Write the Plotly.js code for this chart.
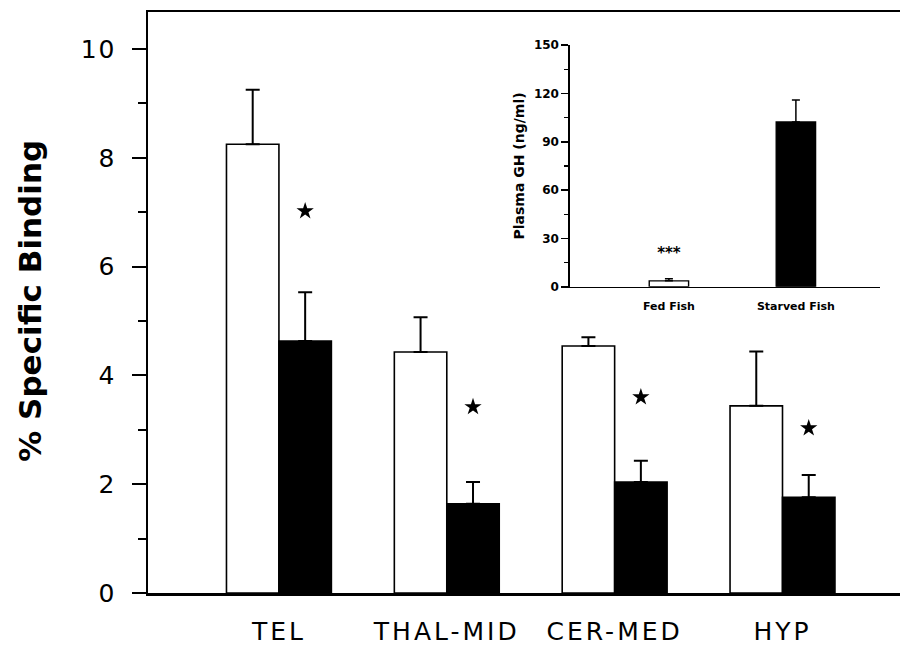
<!DOCTYPE html>
<html>
<head>
<meta charset="utf-8">
<script src="https://cdn.plot.ly/plotly-3.0.1.min.js"></script>
<style>
html,body{margin:0;padding:0;background:#fff;}
#chart{width:902px;height:646px;}
#chart .xtick text{letter-spacing:3px;}
#chart .ytick text{letter-spacing:2px;}
</style>
</head>
<body>
<div id="chart"></div>
<script>
// Main chart data (% specific binding)
var categories = ['TEL', 'THAL-MID', 'CER-MED', 'HYP'];
var fedBinding = [8.25, 4.43, 4.54, 3.44];
var fedErr = [1.0, 0.64, 0.16, 1.0];
var starvedBinding = [4.63, 1.64, 2.04, 1.76];
var starvedErr = [0.9, 0.4, 0.39, 0.41];
var starY = [7.02, 3.42, 3.60, 3.03];
var yTickVals = [0, 2, 4, 6, 8, 10];

// Inset data (plasma GH, ng/ml)
var insetGroups = ['Fed Fish', 'Starved Fish'];
var insetGH = [3.7, 102.3];
var insetErr = [1.3, 13.7];
var insetStarLabel = ['***', ''];
var insetStarY = [20, null];
var insetTickVals = [0, 30, 60, 90, 120, 150];

var FONT = 'DejaVu Sans, Liberation Sans, Arial, sans-serif';
var idx = categories.map(function (_, i) { return i; });
var bargap = 0.375;
var barW = (1 - bargap) / 2;
var starX = idx.map(function (i) { return i + barW / 2; });
var insetIdx = insetGroups.map(function (_, i) { return i; });
function zeros(a) { return a.map(function () { return 0; }); }

var traces = [
  {
    type: 'bar', x: idx, y: fedBinding, name: 'Fed',
    marker: {color: '#ffffff', line: {color: '#000', width: 1.6}},
    error_y: {type: 'data', array: fedErr, arrayminus: zeros(fedErr), symmetric: false,
              color: '#000', thickness: 2, width: 7},
    xaxis: 'x', yaxis: 'y', hoverinfo: 'skip'
  },
  {
    type: 'bar', x: idx, y: starvedBinding, name: 'Starved',
    marker: {color: '#000000', line: {color: '#000', width: 1.6}},
    error_y: {type: 'data', array: starvedErr, arrayminus: zeros(starvedErr), symmetric: false,
              color: '#000', thickness: 2, width: 7},
    xaxis: 'x', yaxis: 'y', hoverinfo: 'skip'
  },
  {
    type: 'scatter', mode: 'markers', x: starX, y: starY,
    marker: {symbol: 'star', size: 13, color: '#000'},
    xaxis: 'x', yaxis: 'y', hoverinfo: 'skip'
  },
  {
    type: 'bar', x: insetIdx, y: insetGH, width: 0.31,
    marker: {color: ['#ffffff', '#000000'], line: {color: '#000', width: 1.4}},
    error_y: {type: 'data', array: insetErr, arrayminus: zeros(insetErr), symmetric: false,
              color: '#000', thickness: 1.5, width: 4},
    xaxis: 'x2', yaxis: 'y2', hoverinfo: 'skip'
  },
  {
    type: 'scatter', mode: 'text', x: insetIdx, y: insetStarY, text: insetStarLabel,
    textfont: {family: FONT, size: 15, color: '#000', weight: 'bold'},
    xaxis: 'x2', yaxis: 'y2', hoverinfo: 'skip'
  }
];

var layout = {
  width: 902, height: 646,
  margin: {l: 148, r: 2, t: 12, b: 53},
  paper_bgcolor: '#fff', plot_bgcolor: '#fff',
  showlegend: false,
  barmode: 'group', bargap: bargap, bargroupgap: 0,
  font: {family: FONT, color: '#000'},
  xaxis: {
    domain: [0, 1], range: [-0.78, 3.70],
    tickvals: idx, ticktext: categories,
    showline: true, linecolor: '#000', linewidth: 2.5, mirror: true,
    ticks: '', ticklabelstandoff: 14,
    tickfont: {family: FONT, size: 25, color: '#000'},
    showgrid: false, zeroline: false, fixedrange: true
  },
  yaxis: {
    domain: [0, 1], range: [0, 10.68],
    tickvals: yTickVals,
    showline: true, linecolor: '#000', linewidth: 2.5,
    ticks: 'outside', ticklen: 14, tickwidth: 2, tickcolor: '#000',
    minor: {dtick: 1, ticks: 'outside', ticklen: 8, tickwidth: 2, tickcolor: '#000'},
    ticklabelstandoff: 10,
    tickfont: {family: FONT, size: 25, color: '#000'},
    showgrid: false, zeroline: false, fixedrange: true
  },
  xaxis2: {
    domain: [0.561, 0.973], range: [-0.78, 1.66], anchor: 'y2',
    tickvals: insetIdx, ticktext: insetGroups,
    showline: true, linecolor: '#000', linewidth: 1.5,
    ticks: '', ticklabelstandoff: 8,
    tickfont: {family: FONT, size: 11, color: '#000', weight: 'bold'},
    showgrid: false, zeroline: false, fixedrange: true
  },
  yaxis2: {
    domain: [0.527, 0.943], range: [0, 150], anchor: 'x2',
    tickvals: insetTickVals,
    showline: true, linecolor: '#000', linewidth: 1.5,
    ticks: 'outside', ticklen: 7, tickwidth: 1.5, tickcolor: '#000',
    minor: {dtick: 15, ticks: 'outside', ticklen: 4, tickwidth: 1.2, tickcolor: '#000'},
    tickfont: {family: FONT, size: 12, color: '#000', weight: 'bold'},
    title: {text: 'Plasma GH (ng/ml)', font: {family: FONT, size: 14, color: '#000', weight: 'bold'}, standoff: 6},
    showgrid: false, zeroline: false, fixedrange: true
  },
  annotations: [
    {
      text: '% Specific Binding', xref: 'paper', yref: 'paper', x: 0, y: 0.503,
      xanchor: 'center', yanchor: 'middle', xshift: -118, textangle: -90, showarrow: false,
      font: {family: FONT, size: 31, color: '#000', weight: 'bold'}
    }
  ]
};

Plotly.newPlot('chart', traces, layout, {staticPlot: true, displayModeBar: false});
</script>
</body>
</html>
